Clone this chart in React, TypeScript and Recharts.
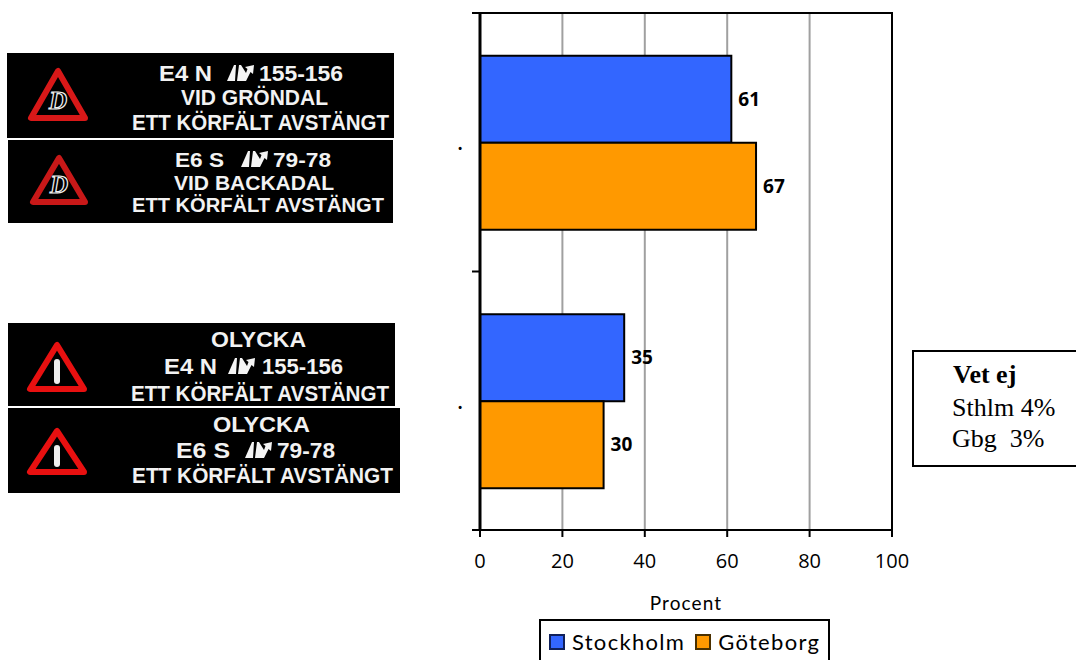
import React from "react";
import {
  BarChart,
  Bar,
  XAxis,
  YAxis,
  CartesianGrid,
  LabelList,
  Legend,
  ReferenceArea,
} from "recharts";

const categories = [".", ". "];
const stockholm = [61, 35];
const goteborg = [67, 30];
const percentTicks = [0, 20, 40, 60, 80, 100];

const rows = categories.map((name, i) => ({
  name,
  stockholm: stockholm[i],
  goteborg: goteborg[i],
}));

const BLUE = "#3366FF";
const ORANGE = "#FF9900";
const LABEL_FONT = 'Lato, "Open Sans", sans-serif';
const VALUE_FONT = '"Open Sans", sans-serif';
const SIGN_FONT = '"Liberation Sans", Arial, sans-serif';

const CHART_W = 1076;
const CHART_H = 660;
const PLOT_TOP = 13;
const PLOT_BOTTOM = 530;
const BAND = (PLOT_BOTTOM - PLOT_TOP) / categories.length;

// y-axis ticks sit between the categories, the label dot stays centred
function CategoryTick({ x, y, payload, index }: any) {
  const isLast = index === categories.length - 1;
  return (
    <g>
      <line x1={x} x2={x + 8} y1={y - BAND / 2} y2={y - BAND / 2} stroke="#000" strokeWidth={2} />
      {isLast && (
        <line x1={x} x2={x + 8} y1={y + BAND / 2} y2={y + BAND / 2} stroke="#000" strokeWidth={2} />
      )}
      <text x={x - 12} y={y + 8} fontFamily={LABEL_FONT} fontSize={20} fontWeight={700} textAnchor="middle" fill="#000">
        {payload.value.trim()}
      </text>
    </g>
  );
}

function LegendBox() {
  const entries = [
    { label: "Stockholm", color: BLUE, edge: "#10205a" },
    { label: "Göteborg", color: ORANGE, edge: "#4a3000" },
  ];
  return (
    <div
      style={{
        boxSizing: "border-box",
        width: 291,
        height: 44,
        border: "2px solid #000",
        display: "flex",
        alignItems: "flex-start",
        paddingTop: 8,
        paddingLeft: 8,
        fontFamily: LABEL_FONT,
        fontSize: 22,
        letterSpacing: 1.3,
        lineHeight: "26px",
        color: "#000",
        background: "#fff",
      }}
    >
      {entries.map((e) => (
        <span key={e.label} style={{ display: "flex", alignItems: "center", marginRight: 10 }}>
          <span
            style={{
              boxSizing: "border-box",
              width: 16,
              height: 16,
              marginRight: 7,
              background: e.color,
              border: `2px solid ${e.edge}`,
            }}
          />
          {e.label}
        </span>
      ))}
    </div>
  );
}

function Lane({ glyphX }: { glyphX: number }) {
  // lane-change pictogram between road name and junction numbers
  return (
    <path
      transform={`translate(${glyphX} 0)`}
      d="M0,16 L7,0 L9,0 L8,16 Z M10,16 L12,0 L14,0 L19,8 L20.5,4 L18,2 L27,0 L26,9 L23.5,7 L19,16 L17,16 Z"
      fill="#f4f4f4"
    />
  );
}

type Run = { text: string; x: number; width: number; base: number };

function SignText({ text, x, width, base, size = 22 }: Run & { size?: number }) {
  return (
    <text
      x={x}
      y={base}
      textLength={width}
      lengthAdjust="spacingAndGlyphs"
      fontFamily={SIGN_FONT}
      fontWeight={700}
      fontSize={size}
      fill="#f2f2f2"
    >
      {text}
    </text>
  );
}

function Triangle({ apex, baseY, half, color, kind }: any) {
  const cx = apex[0];
  const top = apex[1];
  return (
    <g>
      <path
        d={`M${cx},${top} L${cx - half},${baseY} L${cx + half},${baseY} Z`}
        fill="#000"
        stroke={color}
        strokeWidth={6}
        strokeLinejoin="round"
      />
      {kind === "bar" ? (
        <line x1={cx} x2={cx} y1={top + 17} y2={baseY - 8} stroke="#eee" strokeWidth={6} strokeLinecap="round" />
      ) : (
        <text
          x={cx}
          y={baseY - 9}
          textAnchor="middle"
          fontFamily='"Liberation Serif", serif'
          fontStyle="italic"
          fontWeight={700}
          fontSize={25}
          fill="#000"
          stroke="#f0f0f0"
          strokeWidth={1.2}
        >
          D
        </text>
      )}
    </g>
  );
}

function Signs() {
  return (
    <svg
      width={CHART_W}
      height={CHART_H}
      style={{ position: "absolute", left: 0, top: 0, pointerEvents: "none" }}
    >
      {/* roadwork signs */}
      <rect x={7} y={53} width={387} height={85} fill="#000" />
      <Triangle apex={[58, 71]} baseY={118} half={27} color="#d81818" kind="d" />
      <SignText text="E4 N" x={159} width={53} base={81} />
      <g transform="translate(227 65)"><Lane glyphX={0} /></g>
      <SignText text="155-156" x={259} width={84} base={81} />
      <SignText text="VID GRÖNDAL" x={181} width={147} base={105} />
      <SignText text="ETT KÖRFÄLT AVSTÄNGT" x={132} width={257} base={130} />

      <rect x={8} y={140} width={385} height={83} fill="#000" />
      <Triangle apex={[59, 158]} baseY={202} half={26} color="#c81818" kind="d" />
      <SignText text="E6 S" x={175} width={49} base={167} size={20} />
      <g transform="translate(241 151)"><Lane glyphX={0} /></g>
      <SignText text="79-78" x={273} width={58} base={167} size={20} />
      <SignText text="VID BACKADAL" x={174} width={160} base={190} size={20} />
      <SignText text="ETT KÖRFÄLT AVSTÄNGT" x={132} width={252} base={212} size={20} />

      {/* accident signs */}
      <rect x={8} y={323} width={387} height={83} fill="#000" />
      <Triangle apex={[57, 345]} baseY={389} half={27} color="#e81010" kind="bar" />
      <SignText text="OLYCKA" x={211} width={95} base={347} />
      <SignText text="E4 N" x={164} width={53} base={374} />
      <g transform="translate(228 358)"><Lane glyphX={0} /></g>
      <SignText text="155-156" x={262} width={81} base={374} />
      <SignText text="ETT KÖRFÄLT AVSTÄNGT" x={131} width={258} base={401} />

      <rect x={8} y={408} width={392} height={85} fill="#000" />
      <Triangle apex={[57, 431]} baseY={472} half={27} color="#e81010" kind="bar" />
      <SignText text="OLYCKA" x={213} width={97} base={432} />
      <SignText text="E6 S" x={176} width={54} base={458} />
      <g transform="translate(245 442)"><Lane glyphX={0} /></g>
      <SignText text="79-78" x={277} width={58} base={458} />
      <SignText text="ETT KÖRFÄLT AVSTÄNGT" x={132} width={261} base={483} />
    </svg>
  );
}

function UnknownBox() {
  return (
    <div
      style={{
        position: "absolute",
        left: 912,
        top: 350,
        width: 170,
        height: 117,
        boxSizing: "border-box",
        border: "2px solid #000",
        background: "#fff",
        fontFamily: '"Liberation Serif", serif',
        fontSize: 26,
        lineHeight: "30px",
        color: "#000",
      }}
    >
      <div style={{ position: "absolute", left: 39, top: 8, fontWeight: 700 }}>Vet ej</div>
      <div style={{ position: "absolute", left: 38, top: 41 }}>Sthlm 4%</div>
      <div style={{ position: "absolute", left: 38, top: 72, whiteSpace: "pre" }}>Gbg  3%</div>
    </div>
  );
}

export default function App() {
  return (
    <div style={{ position: "absolute", left: 0, top: 0, width: CHART_W, height: CHART_H, overflow: "hidden", background: "#fff" }}>
      <BarChart
        width={CHART_W}
        height={CHART_H}
        data={rows}
        layout="vertical"
        barGap={0}
        barCategoryGap="16.5%"
        margin={{ top: PLOT_TOP, right: 184, bottom: 0, left: 0 }}
      >
        <CartesianGrid horizontal={false} stroke="#a0a0a0" strokeWidth={2} />
        <XAxis
          type="number"
          domain={[0, 100]}
          ticks={percentTicks}
          interval={0}
          height={CHART_H - PLOT_BOTTOM - 44}
          stroke="#000"
          strokeWidth={2}
          fontFamily={VALUE_FONT}
          fontSize={20}
          tick={{ fill: "#000" }}
          tickSize={7}
          tickMargin={17}
          label={{
            value: "Procent",
            position: "insideBottom",
            offset: 6,
            fontFamily: LABEL_FONT,
            fontSize: 19,
            letterSpacing: 1.1,
            fill: "#000",
          }}
        />
        <YAxis
          type="category"
          dataKey="name"
          width={480}
          interval={0}
          stroke="#000"
          strokeWidth={3}
          tickLine={false}
          tick={<CategoryTick />}
        />
        <Bar dataKey="stockholm" name="Stockholm" fill={BLUE} stroke="#000" strokeWidth={2} isAnimationActive={false}>
          <LabelList dataKey="stockholm" position="right" offset={7} fontFamily={VALUE_FONT} fontWeight={700} fontSize={19} fill="#000" />
        </Bar>
        <Bar dataKey="goteborg" name="Göteborg" fill={ORANGE} stroke="#000" strokeWidth={2} isAnimationActive={false}>
          <LabelList dataKey="goteborg" position="right" offset={7} fontFamily={VALUE_FONT} fontWeight={700} fontSize={19} fill="#000" />
        </Bar>
        <ReferenceArea x1={0} x2={100} fill="none" stroke="#000" strokeWidth={2} fillOpacity={0} />
        <Legend content={<LegendBox />} wrapperStyle={{ left: 539, top: 619, width: 291 }} />
      </BarChart>
      <Signs />
      <UnknownBox />
    </div>
  );
}
